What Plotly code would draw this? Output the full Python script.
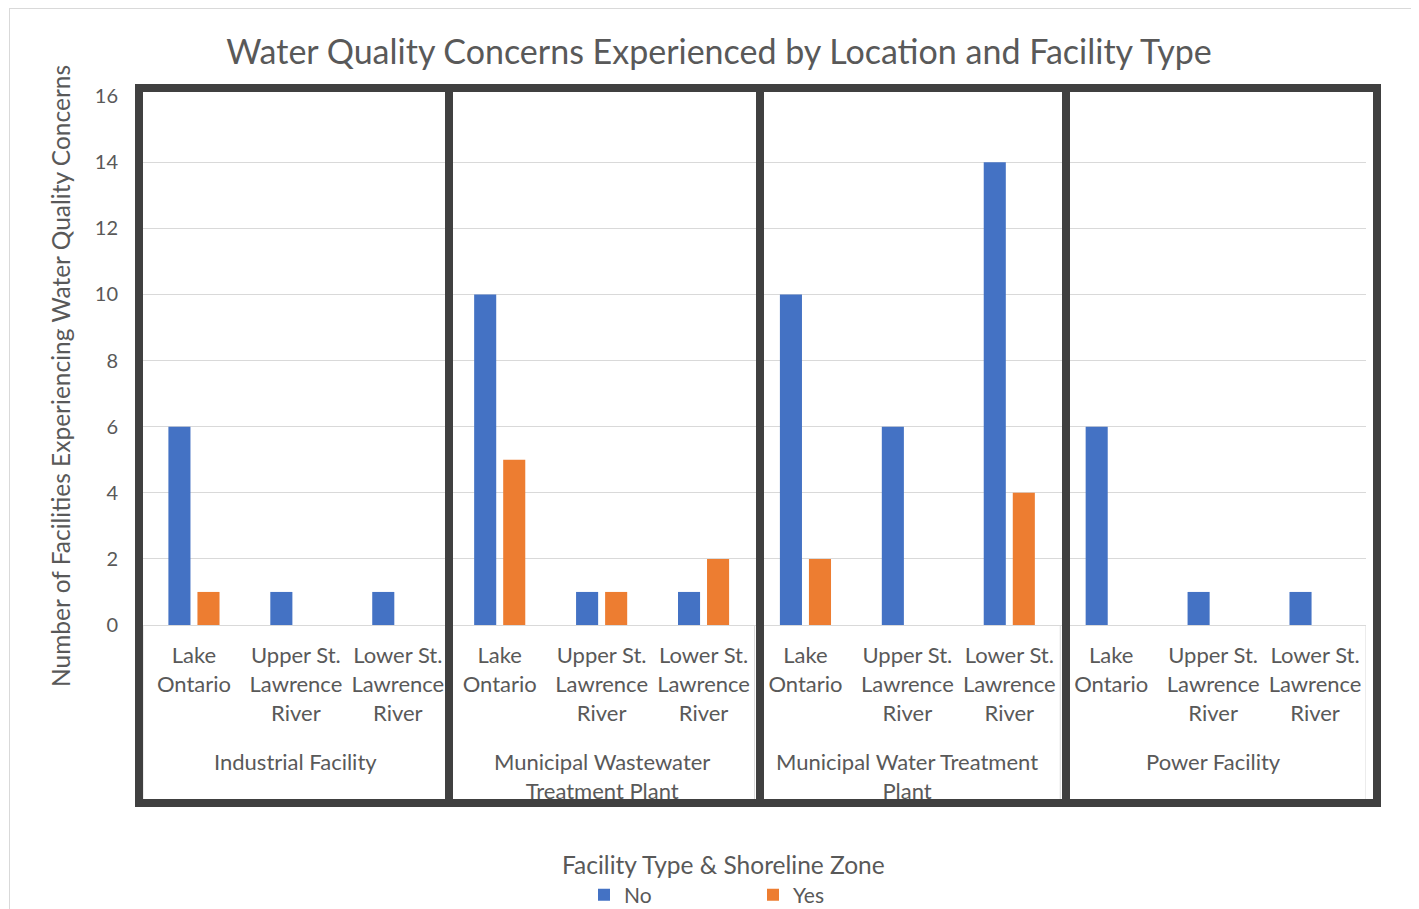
import plotly.graph_objects as go

# ---- data ----
facilities = ["Industrial Facility", "Municipal Wastewater<br>Treatment Plant",
              "Municipal Water Treatment<br>Plant", "Power Facility"]
zones = ["Lake<br>Ontario", "Upper St.<br>Lawrence<br>River", "Lower St.<br>Lawrence<br>River"]
no_values = [6, 1, 1, 10, 1, 1, 10, 6, 14, 6, 1, 1]
yes_values = [1, 0, 0, 5, 1, 2, 2, 0, 4, 0, 0, 0]
y_ticks = [0, 2, 4, 6, 8, 10, 12, 14, 16]

FONT = "Lato"
GRAY_TXT = "#595959"
GRID = "#d9d9d9"
DARK = "#404040"

# page offset (body margin) compensation
OFF = 8
W_FIG, H_FIG = 1419 - OFF, 909 - OFF
L, R_PIX, T, B_PIX = 143 - OFF, 1366 - OFF, 96 - OFF, 625 - OFF
PW, PH = R_PIX - L, B_PIX - T


def px_x(p):
    return (p - OFF - L) / PW


def px_y(p):
    return (B_PIX - (p - OFF)) / PH


n_cat = len(facilities) * len(zones)
xpos = list(range(n_cat))
tick_text = [zones[i % len(zones)] for i in range(n_cat)]

fig = go.Figure()
fig.add_trace(go.Bar(x=xpos, y=no_values, name="No", marker=dict(color="#4472C4", line=dict(width=0))))
fig.add_trace(go.Bar(x=xpos, y=yes_values, name="Yes", marker=dict(color="#ED7D31", line=dict(width=0))))

shapes = []
# outer chart border (light)
shapes.append(dict(type="line", xref="paper", yref="paper", x0=px_x(9), x1=px_x(1419), y0=px_y(8.5), y1=px_y(8.5),
                   line=dict(color=GRID, width=1)))
shapes.append(dict(type="line", xref="paper", yref="paper", x0=px_x(9.5), x1=px_x(9.5), y0=px_y(8), y1=px_y(909),
                   line=dict(color=GRID, width=1)))
# category separators in label area
nz = len(zones)
for g in range(len(facilities) + 1):
    xb = g * nz - 0.5
    shapes.append(dict(type="line", xref="x", yref="paper", x0=xb, x1=xb, y0=0, y1=px_y(800),
                       line=dict(color=GRID, width=1), layer="below"))
shapes.append(dict(type="line", xref="paper", yref="paper", x0=0, x1=1, y0=px_y(800), y1=px_y(800),
                   line=dict(color=GRID, width=1), layer="below"))
# thick group boxes
box_edges = [139, 449, 760, 1066, 1377]
for i in range(len(box_edges) - 1):
    shapes.append(dict(type="rect", xref="paper", yref="paper",
                       x0=px_x(box_edges[i]), x1=px_x(box_edges[i + 1]),
                       y0=px_y(803), y1=px_y(88),
                       line=dict(color=DARK, width=8), fillcolor="rgba(0,0,0,0)"))

annotations = []
for g, name in enumerate(facilities):
    annotations.append(dict(text=name, x=g * nz + (nz - 1) / 2, xref="x", y=px_y(746), yref="paper",
                            yanchor="top", xanchor="center", showarrow=False,
                            font=dict(family=FONT, size=22, color=GRAY_TXT)))
annotations.append(dict(text="Number of Facilities Experiencing Water Quality Concerns", textangle=-90,
                        x=px_x(60), xref="paper", y=px_y(376), yref="paper", showarrow=False,
                        xanchor="center", yanchor="middle",
                        font=dict(family=FONT, size=24.5, color=GRAY_TXT)))
annotations.append(dict(text="Facility Type & Shoreline Zone", x=px_x(723), xref="paper", y=px_y(864),
                        yref="paper", showarrow=False, xanchor="center", yanchor="middle",
                        font=dict(family=FONT, size=24.5, color=GRAY_TXT)))

fig.update_layout(
    width=W_FIG, height=H_FIG,
    margin=dict(l=L, r=W_FIG - R_PIX, t=T, b=H_FIG - B_PIX, autoexpand=False),
    paper_bgcolor="white", plot_bgcolor="white",
    title=dict(text="Water Quality Concerns Experienced by Location and Facility Type",
               x=(719 - OFF) / W_FIG, xref="container", xanchor="center",
               y=1 - (52 - OFF) / H_FIG, yref="container", yanchor="middle",
               font=dict(family=FONT, size=34, color=GRAY_TXT)),
    font=dict(family=FONT, color=GRAY_TXT),
    barmode="group", bargap=0.43, bargroupgap=0.24,
    xaxis=dict(range=[-0.5, n_cat - 0.5], tickmode="array", tickvals=xpos, ticktext=tick_text,
               tickangle=0, ticks="", showgrid=False, zeroline=False, showline=True, linecolor=GRID,
               linewidth=1, tickfont=dict(family=FONT, size=22, color=GRAY_TXT), ticklabelstandoff=11,
               automargin=False, fixedrange=True),
    yaxis=dict(range=[0, 16], tickmode="array", tickvals=y_ticks, ticks="", showgrid=True,
               gridcolor=GRID, gridwidth=1, zeroline=False, showline=False,
               tickfont=dict(family=FONT, size=20, color=GRAY_TXT), ticklabelstandoff=24,
               automargin=False, fixedrange=True),
    legend=dict(orientation="h", x=px_x(584), xanchor="left", y=px_y(895), yanchor="middle",
                entrywidth=124, entrywidthmode="pixels", font=dict(family=FONT, size=21, color=GRAY_TXT),
                bgcolor="rgba(0,0,0,0)"),
    shapes=shapes, annotations=annotations,
)

fig.write_html("out.html")
